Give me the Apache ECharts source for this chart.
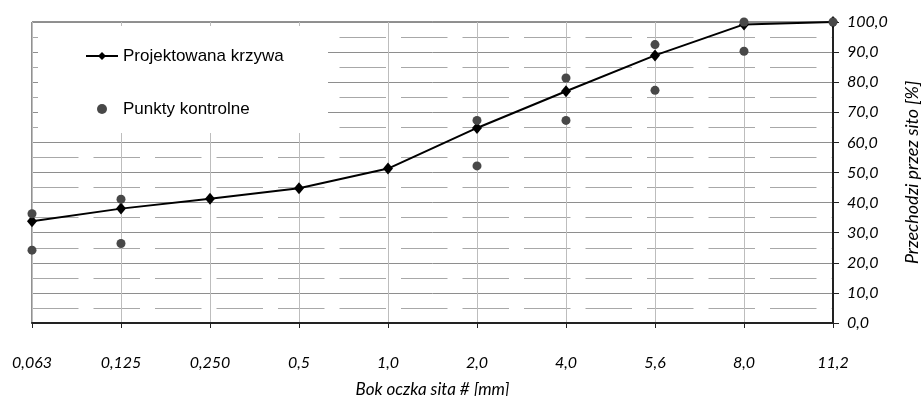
<!DOCTYPE html>
<html>
<head>
<meta charset="utf-8">
<script src="https://cdn.jsdelivr.net/npm/echarts@6/dist/echarts.min.js"></script>
<style>
  html, body { margin: 0; padding: 0; background: #fff; }
  #chart { width: 921px; height: 396px; }
</style>
</head>
<body>
<div id="chart"></div>
<script>
// Sieve sizes [mm] and percent passing
const sieves = ['0,063', '0,125', '0,250', '0,5', '1,0', '2,0', '4,0', '5,6', '8,0', '11,2'];
const designCurve = [33.8, 38.0, 41.3, 44.8, 51.3, 64.8, 77.0, 88.9, 99.2, 100.0];
// Control points: upper and lower bound readings per sieve
const controlUpper = [36.3, 41.1, null, null, null, 67.3, 81.4, 92.5, 100.0, 100.0];
const controlLower = [24.2, 26.4, null, null, null, 52.2, 67.3, 77.3, 90.3, null];

const tickFont = { fontFamily: 'Lato', fontStyle: 'italic', fontSize: 16, color: '#000' };
const fmt = v => v.toFixed(1).replace('.', ',');

const chart = echarts.init(document.getElementById('chart'), null, { renderer: 'canvas' });

chart.setOption({
  animation: false,
  backgroundColor: '#fff',
  grid: {
    left: 32, right: 88, top: 22, bottom: 73,
    outerBoundsMode: 'none',
    containLabel: false,
    show: true, borderColor: '#222', borderWidth: 1, backgroundColor: 'transparent'
  },
  legend: {
    orient: 'vertical',
    left: 85, top: 46,
    padding: 0,
    itemWidth: 32, itemHeight: 10,
    itemGap: 33,
    itemTextGap: 5,
    itemStyle: { borderWidth: 0 },
    textStyle: { fontFamily: 'Liberation Sans', fontSize: 17, color: '#000', lineHeight: 20 },
    data: ['Projektowana krzywa', 'Punkty kontrolne']
  },
  // white panel behind the legend
  graphic: [{
    type: 'rect', z: 1,
    shape: { x: 38, y: 26, width: 290, height: 107 },
    style: { fill: '#fff' }
  }],
  xAxis: {
    type: 'category',
    data: sieves,
    boundaryGap: false,
    name: 'Bok oczka sita # [mm]',
    nameLocation: 'middle',
    nameGap: 58,
    nameTextStyle: { fontFamily: 'Lato', fontStyle: 'italic', fontSize: 17, color: '#000' },
    axisLine: { lineStyle: { color: '#222', width: 2 } },
    axisTick: { show: true, inside: false, length: 5, alignWithLabel: true, lineStyle: { color: '#222', width: 1 } },
    axisLabel: Object.assign({ margin: 32, interval: 0 }, tickFont),
    splitLine: { show: true, lineStyle: { color: '#bdbdbd', width: 1 } }
  },
  yAxis: {
    type: 'value',
    position: 'right',
    min: 0, max: 100, interval: 10,
    name: 'Przechodzi przez sito [%]',
    nameLocation: 'middle',
    nameRotate: 90,
    nameGap: 70,
    nameTextStyle: { fontFamily: 'Lato', fontStyle: 'italic', fontSize: 18, color: '#000' },
    axisLine: { show: true, lineStyle: { color: '#222', width: 2 } },
    axisTick: { show: true, inside: false, length: 6, lineStyle: { color: '#222', width: 1 } },
    axisLabel: Object.assign({ margin: 14, formatter: fmt }, tickFont),
    splitLine: { show: true, lineStyle: { color: '#8e8e8e', width: 1 } },
    minorTick: { show: false, splitNumber: 2 },
    minorSplitLine: { show: true, lineStyle: { color: '#a8a8a8', width: 1, type: [46.5, 15] } }
  },
  series: [
    {
      name: 'Projektowana krzywa',
      type: 'line',
      data: designCurve,
      z: 3,
      symbol: 'diamond',
      symbolSize: [10, 12],
      showAllSymbol: true,
      lineStyle: { color: '#000', width: 2 },
      itemStyle: { color: '#000' }
    },
    {
      name: 'Punkty kontrolne',
      type: 'scatter',
      data: controlUpper,
      z: 4,
      symbol: 'circle',
      symbolSize: 9,
      itemStyle: { color: '#484848', opacity: 1 }
    },
    {
      name: 'Punkty kontrolne',
      type: 'scatter',
      data: controlLower,
      z: 4,
      symbol: 'circle',
      symbolSize: 9,
      itemStyle: { color: '#484848', opacity: 1 }
    }
  ]
});
</script>
</body>
</html>
